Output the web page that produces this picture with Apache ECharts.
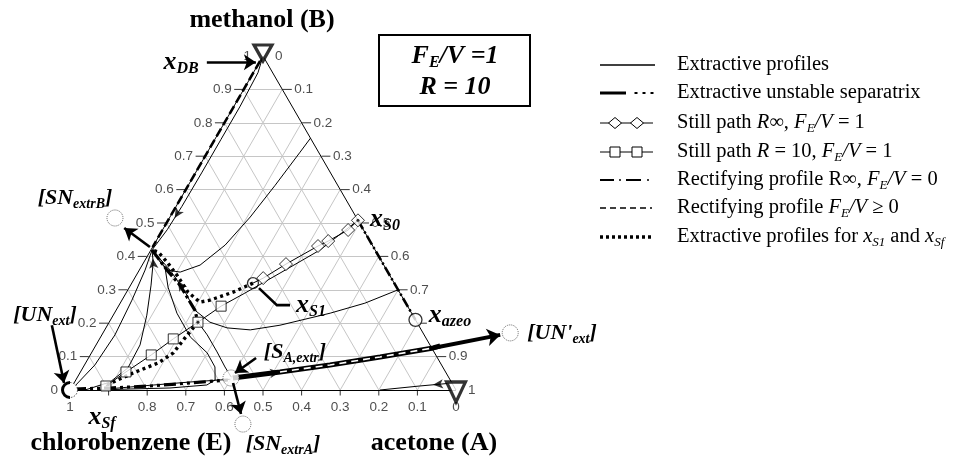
<!DOCTYPE html>
<html>
<head>
<meta charset="utf-8">
<script src="https://cdn.jsdelivr.net/npm/echarts@6/dist/echarts.min.js"></script>
<style>
  html, body { margin: 0; padding: 0; background: #fff; }
  #chart { width: 957px; height: 464px; }
</style>
</head>
<body>
<div id="chart"></div>
<script>
// Ternary diagram acetone (A) / methanol (B) / chlorobenzene (E).
// Every composition is written as [x_acetone, x_methanol]; chlorobenzene is the balance.

const gridSteps = [0.1, 0.2, 0.3, 0.4, 0.5, 0.6, 0.7, 0.8, 0.9];
const methanolTickLabels = ['0', '0.1', '0.2', '0.3', '0.4', '0.5', '0.6', '0.7', '0.8', '0.9', '1'];
const acetoneTickLabels = ['0', '0.1', '0.2', '0.3', '0.4', '0.5', '0.6', '0.7', '0.9', '1'];
const chlorobenzeneTickLabels = ['1', '0.8', '0.7', '0.6', '0.5', '0.4', '0.3', '0.2', '0.1', '0'];

// Special points
const xDB = [0.0, 1.0];
const xS0 = [0.492, 0.508];
const xS1 = [0.314, 0.320];
const xSf = [0.087, 0.012];
const xAzeo = [0.79, 0.21];
const saddle = [0.230, 0.203];
const unExt = [0.0, 0.0];
const snExtrB = [-0.141, 0.515];
const sAExtr = [0.399, 0.036];
const snExtrA = [0.499, -0.102];
const unExtPrime = [1.055, 0.171];

// Extractive profiles (thin solid)
const profileNearB = [[0, 1], [0.012, 0.95], [0.016, 0.85], [0.016, 0.75], [0.016, 0.65], [0.015, 0.55], [0.012, 0.48], [0.003, 0.42]];
const profileUpper = [[0.246, 0.754], [0.240, 0.712], [0.225, 0.613], [0.208, 0.518], [0.185, 0.434], [0.150, 0.374], [0.109, 0.353], [0.072, 0.359], [0.042, 0.383], [0.003, 0.419]];
const profileMiddle = [[0.70, 0.30], [0.634, 0.260], [0.559, 0.230], [0.447, 0.194], [0.377, 0.180], [0.314, 0.186], [0.261, 0.203], [0.204, 0.239], [0.152, 0.293], [0.080, 0.359], [0.003, 0.419]];
const profileNearE = [[0.004, 0.003], [0.027, 0.075], [0.034, 0.165], [0.026, 0.269], [0.015, 0.359], [0.003, 0.419]];
const profileFromBase = [[0.039, 0.0], [0.092, 0.024], [0.117, 0.066], [0.114, 0.135], [0.087, 0.224], [0.053, 0.314], [0.024, 0.383], [0.003, 0.419]];
const profileLoop = [[0.003, 0.419], [0.062, 0.368], [0.100, 0.308], [0.162, 0.230], [0.232, 0.159], [0.300, 0.111], [0.341, 0.069], [0.361, 0.030], [0.347, 0.015], [0.256, 0.006], [0.154, 0.003], [0.078, 0.0]];
const profileSaddleToS = [[0.230, 0.203], [0.273, 0.165], [0.324, 0.114], [0.367, 0.069], [0.398, 0.039]];
const profileBase = [[0.095, 0.003], [0.200, 0.014], [0.300, 0.024], [0.398, 0.032]];
const profileFromA = [[0.982, 0.021], [0.900, 0.012], [0.803, 0.0]];

// Extractive unstable separatrix
const separatrixToUNext = [[0.404, 0.036], [0.517, 0.054], [0.636, 0.075], [0.754, 0.099], [0.878, 0.126], [0.893, 0.132]];
const separatrixBase = [[0.009, 0.003], [0.101, 0.006], [0.201, 0.012], [0.300, 0.021], [0.394, 0.030]];
const separatrixSaddle = [[0.003, 0.419], [0.072, 0.359], [0.128, 0.314], [0.204, 0.239], [0.230, 0.203]];

// Rectifying profiles
const rectifyingInf = [[0.492, 0.508], [0.79, 0.21]];
const rectifyingFE = [[0.0, 0.985], [0.0, 0.428]];
const rectifyingLower = [[0.517, 0.054], [0.636, 0.075], [0.754, 0.099], [0.878, 0.126]];

// Still paths
const stillPathInf = [[0.314, 0.320], [0.333, 0.335], [0.371, 0.377], [0.427, 0.431], [0.446, 0.446], [0.481, 0.479], [0.492, 0.508]];
const stillPath10 = [[0.087, 0.012], [0.118, 0.054], [0.158, 0.105], [0.191, 0.153], [0.230, 0.203], [0.266, 0.251], [0.308, 0.290], [0.369, 0.350], [0.438, 0.419], [0.492, 0.508]];
const stillPath10Marked = 6;

// Extractive profiles for xS1 and xSf
const dottedFromS1 = [[0.314, 0.320], [0.276, 0.293], [0.228, 0.269], [0.205, 0.263], [0.159, 0.293], [0.105, 0.344], [0.060, 0.383], [0.022, 0.413], [0.003, 0.419]];
const dottedFromSf = [[0.088, 0.015], [0.138, 0.051], [0.188, 0.081], [0.212, 0.111], [0.220, 0.156], [0.226, 0.186], [0.230, 0.203]];

// Annotation arrows
const arrowXDB = [[-0.136, 0.981], [-0.009, 0.981]];
const arrowSNextrB = [[-0.007, 0.428], [-0.102, 0.485]];
const arrowUNext = [[-0.144, 0.194], [-0.026, 0.021]];
const arrowSAextr = [[0.434, 0.096], [0.402, 0.051]];
const arrowSNextrA = [[0.412, 0.021], [0.479, -0.072]];
const arrowUNextPrime = [[0.878, 0.126], [1.032, 0.165]];
const arrowXS1 = [[0.443, 0.254], [0.409, 0.254], [0.337, 0.305]];

const SQ = Math.sqrt(3) / 2;
const xy = p => [p[0] + p[1] / 2, p[1] * SQ];
const SERIF = "'Liberation Serif', 'Times New Roman', serif";
const SANS = "'Liberation Sans', Arial, sans-serif";

function curve(points, lineStyle, z) {
  return { type: 'line', data: points.map(xy), symbol: 'none', silent: true, clip: false,
           lineStyle: Object.assign({ color: '#000', width: 1 }, lineStyle), z: z || 3 };
}
function markers(points, symbol, size, itemStyle, z) {
  return { type: 'scatter', data: points.map(xy), symbol, symbolSize: size, silent: true, clip: false,
           itemStyle: Object.assign({ color: '#fff', borderColor: '#000', borderWidth: 1 }, itemStyle), z: z || 5 };
}
function segments(list, lineStyle, extra, z) {
  return Object.assign({ type: 'lines', coordinateSystem: 'cartesian2d', silent: true, clip: false,
           data: list.map(c => ({ coords: c.map(xy) })),
           lineStyle: Object.assign({ color: '#000', width: 1, opacity: 1 }, lineStyle), z: z || 2 }, extra || {});
}
function arrowOn(points, i, t) {
  const a = xy(points[i]), b = xy(points[i + 1]);
  const ang = Math.atan2(b[1] - a[1], b[0] - a[0]) * 180 / Math.PI;
  return { value: [a[0] + (b[0] - a[0]) * t, a[1] + (b[1] - a[1]) * t], symbolRotate: ang - 90 };
}

// Grid lines: constant methanol, acetone and chlorobenzene
const gridSegs = [];
gridSteps.forEach(v => {
  gridSegs.push([[0, v], [1 - v, v]]);
  gridSegs.push([[v, 0], [v, 1 - v]]);
  gridSegs.push([[1 - v, 0], [0, 1 - v]]);
});
const edges = [[[0, 0], [1, 0]], [[1, 0], [0, 1]], [[0, 1], [0, 0]]];

const tickLabelStyle = { fontFamily: SANS, fontSize: 13.5, color: '#222' };
function tickLabels(labels, toPoint, position, distance) {
  return { type: 'scatter', symbolSize: 0.01, silent: true, clip: false, z: 6,
    data: labels.map(l => ({ value: xy(toPoint(parseFloat(l))), label: { formatter: l } })),
    label: Object.assign({ show: true, position, distance }, tickLabelStyle) };
}

const annRich = {
  m: { fontFamily: SERIF, fontSize: 26, fontWeight: 'bold', fontStyle: 'italic', lineHeight: 30, fill: '#000' },
  s: { fontFamily: SERIF, fontSize: 16, fontWeight: 'bold', fontStyle: 'italic', lineHeight: 14, verticalAlign: 'bottom', fill: '#000' },
  M: { fontFamily: SERIF, fontSize: 22, fontWeight: 'bold', fontStyle: 'italic', lineHeight: 26, fill: '#000' },
  S: { fontFamily: SERIF, fontSize: 14, fontWeight: 'bold', fontStyle: 'italic', lineHeight: 12, verticalAlign: 'bottom', fill: '#000' }
};
function ann(x, y, text) {
  return { type: 'text', x, y, z: 20, style: { text, rich: annRich, align: 'center', verticalAlign: 'middle' } };
}
function bold(x, y, text) {
  return { type: 'text', x, y, z: 20, style: { text, fontFamily: SERIF, fontSize: 26, fontWeight: 'bold', fill: '#000', align: 'center', verticalAlign: 'middle' } };
}

const legRich = {
  n: { fontFamily: SERIF, fontSize: 20.5, lineHeight: 24, fill: '#000' },
  i: { fontFamily: SERIF, fontSize: 20.5, fontStyle: 'italic', lineHeight: 24, fill: '#000' },
  b: { fontFamily: SERIF, fontSize: 13, fontStyle: 'italic', lineHeight: 12, verticalAlign: 'bottom', fill: '#000' }
};
const legendEntries = [
  '{n|Extractive profiles}',
  '{n|Extractive unstable separatrix}',
  '{n|Still path }{i|R}{n|∞, }{i|F}{b|E}{i|/V}{n| = 1}',
  '{n|Still path }{i|R}{n| = 10, }{i|F}{b|E}{i|/V}{n| = 1}',
  '{n|Rectifying profile R∞, }{i|F}{b|E}{i|/V}{n| = 0}',
  '{n|Rectifying profile }{i|F}{b|E}{i|/V}{n| ≥ 0}',
  '{n|Extractive profiles for }{i|x}{b|S1}{n| and }{i|x}{b|Sf}'
];
const legendY = [65, 93, 123, 152, 180, 208, 237];
const L0 = 600, L1 = 655;
function hline(x1, x2, y, style) {
  return { type: 'line', shape: { x1, y1: y, x2, y2: y }, style: Object.assign({ stroke: '#000', lineWidth: 1 }, style), z: 20 };
}
const legendGraphics = [];
legendEntries.forEach((t, k) => {
  legendGraphics.push({ type: 'text', x: 677, y: legendY[k], z: 20,
    style: { text: t, rich: legRich, verticalAlign: 'middle', align: 'left' } });
});
legendGraphics.push(hline(L0, L1, legendY[0], { lineWidth: 1.3 }));
legendGraphics.push(hline(L0, 626, legendY[1], { lineWidth: 3 }));
[636, 644, 652].forEach(x => legendGraphics.push({ type: 'rect', shape: { x: x - 1.5, y: legendY[1] - 1, width: 3, height: 2 }, style: { fill: '#000' }, z: 20 }));
legendGraphics.push(hline(L0, 653, legendY[2], { lineWidth: 1 }));
[615, 637].forEach(x => legendGraphics.push({ type: 'polygon', shape: { points: [[x - 6.5, legendY[2]], [x, legendY[2] - 5.5], [x + 6.5, legendY[2]], [x, legendY[2] + 5.5]] }, style: { fill: '#fff', stroke: '#000', lineWidth: 1 }, z: 21 }));
legendGraphics.push(hline(L0, 653, legendY[3], { lineWidth: 1 }));
[615, 637].forEach(x => legendGraphics.push({ type: 'rect', shape: { x: x - 5, y: legendY[3] - 5, width: 10, height: 10 }, style: { fill: '#fff', stroke: '#000', lineWidth: 1 }, z: 21 }));
legendGraphics.push(hline(L0, 614, legendY[4], { lineWidth: 2 }));
legendGraphics.push(hline(626, 641, legendY[4], { lineWidth: 2 }));
[620, 648].forEach(x => legendGraphics.push({ type: 'rect', shape: { x: x - 1, y: legendY[4] - 0.8, width: 2, height: 1.6 }, style: { fill: '#000' }, z: 20 }));
legendGraphics.push(hline(L0, 652, legendY[5], { lineWidth: 1.4, lineDash: [6, 4] }));
legendGraphics.push(hline(L0, 653, legendY[6], { lineWidth: 3.5, lineDash: [3, 3] }));

// Operating parameters box
legendGraphics.push({ type: 'rect', shape: { x: 379, y: 35, width: 151, height: 71 }, style: { fill: '#fff', stroke: '#000', lineWidth: 2 }, z: 19 });
const boxRich = {
  m: { fontFamily: SERIF, fontSize: 26, fontWeight: 'bold', fontStyle: 'italic', lineHeight: 30, fill: '#000' },
  s: { fontFamily: SERIF, fontSize: 16, fontWeight: 'bold', fontStyle: 'italic', lineHeight: 14, verticalAlign: 'bottom', fill: '#000' }
};
legendGraphics.push({ type: 'text', x: 455, y: 56, z: 20, style: { text: '{m|F}{s|E}{m|/V =1}', rich: boxRich, align: 'center', verticalAlign: 'middle' } });
legendGraphics.push({ type: 'text', x: 455, y: 87, z: 20, style: { text: '{m|R = 10}', rich: boxRich, align: 'center', verticalAlign: 'middle' } });

// Component names and point labels
const labelGraphics = [
  bold(262, 20, 'methanol (B)'),
  bold(131, 443, 'chlorobenzene (E)'),
  bold(434, 443, 'acetone (A)'),
  ann(283, 444, '{M|[SN}{S|extrA}{M|]}'),
  ann(181, 62, '{m|x}{s|DB}'),
  ann(385, 219, '{m|x}{s|S0}'),
  ann(311, 305, '{m|x}{s|S1}'),
  ann(450, 315, '{m|x}{s|azeo}'),
  ann(102, 417, '{m|x}{s|Sf}'),
  ann(75, 198, '{M|[SN}{S|extrB}{M|]}'),
  ann(45, 315, '{M|[UN}{S|ext}{M|]}'),
  ann(295, 352, '{M|[S}{S|A,extr}{M|]}'),
  ann(562, 333, "{M|[UN'}{S|ext}{M|]}")
];

const series = [
  segments(gridSegs, { color: '#c6c6c6', width: 1 }, null, 1),
  segments(edges, { color: '#000', width: 1 }, null, 2),
  // tick marks
  { type: 'scatter', silent: true, clip: false, z: 2, symbol: 'rect', symbolSize: [9, 1], symbolOffset: [-5, 0],
    itemStyle: { color: '#000' }, data: gridSteps.map(v => xy([0, v])) },
  { type: 'scatter', silent: true, clip: false, z: 2, symbol: 'rect', symbolSize: [9, 1], symbolOffset: [5, 0],
    itemStyle: { color: '#000' }, data: gridSteps.map(v => xy([v, 1 - v])) },
  { type: 'scatter', silent: true, clip: false, z: 2, symbol: 'rect', symbolSize: [1, 5], symbolOffset: [0, 3],
    itemStyle: { color: '#000' }, data: gridSteps.map(v => xy([1 - v, 0])) },
  tickLabels(methanolTickLabels, v => [0, v], 'left', 12),
  tickLabels(acetoneTickLabels, v => [v, 1 - v], 'right', 12),
  tickLabels(chlorobenzeneTickLabels, v => [1 - v, 0], 'bottom', 10),

  // extractive profiles
  curve(profileNearB, { width: 1 }),
  curve(profileUpper, { width: 1 }),
  curve(profileMiddle, { width: 1 }),
  curve(profileNearE, { width: 1 }),
  curve(profileFromBase, { width: 1 }),
  curve(profileLoop, { width: 1 }),
  curve(profileSaddleToS, { width: 1 }),
  curve(profileBase, { width: 1 }),
  curve(profileFromA, { width: 1 }),

  // rectifying profiles
  curve(rectifyingFE, { width: 2.6, type: [9, 4] }, 4),
  curve(rectifyingInf, { width: 2.6, type: [10, 3, 2, 3] }, 4),

  // extractive unstable separatrix
  curve(separatrixToUNext, { width: 5 }, 4),
  curve(rectifyingLower, { width: 1.6, color: '#fff', type: [7, 5] }, 4),
  curve(separatrixBase, { width: 3.2, type: [12, 4, 3, 4, 3, 4] }, 4),
  curve(separatrixSaddle, { width: 3.2, type: [12, 3, 3, 3] }, 4),

  // still paths
  curve(stillPath10, { width: 1 }),
  curve(stillPathInf, { width: 1 }),

  // dotted extractive profiles for xS1 and xSf
  curve(dottedFromS1, { width: 3.4, type: [3, 3.5] }, 4),
  curve(dottedFromSf, { width: 3.4, type: [3, 3.5] }, 4),

  // still path markers
  markers(stillPath10.slice(0, stillPath10Marked), 'rect', 10, {}),
  markers(stillPathInf.slice(1), 'diamond', [13, 13], {}),
  markers([saddle, xS0], 'circle', 3, { color: '#000', borderWidth: 0 }, 6),

  // small arrowheads along profiles
  { type: 'scatter', silent: true, clip: false, z: 6, symbol: 'arrow', symbolSize: [7, 10], itemStyle: { color: '#000' },
    data: [arrowOn(profileNearB, 5, 0.5), arrowOn(profileFromBase, 6, 0.3), arrowOn(profileFromA, 0, 0.6),
           arrowOn(separatrixToUNext, 1, 0.0), arrowOn(profileMiddle, 8, 0.5)] },

  // singular points
  markers([xS1], 'circle', 11, { color: 'rgba(255,255,255,0)', borderWidth: 1.3 }, 7),
  markers([xAzeo], 'circle', 13, { borderWidth: 1.3 }, 7),
  markers([snExtrB, sAExtr, snExtrA, unExtPrime], 'circle', 16,
          { color: '#fff', borderColor: '#444', borderWidth: 1, borderType: 'dotted' }, 7),
  { type: 'scatter', silent: true, clip: false, z: 8, symbol: 'triangle', symbolRotate: 180,
    data: [{ value: xy(xDB), symbolSize: [18, 16], symbolOffset: [0, -3] },
           { value: xy([1, 0]), symbolSize: [19, 20], symbolOffset: [0, 2] }],
    itemStyle: { color: '#fff', borderColor: '#000', borderWidth: 3.2 } },
  { type: 'custom', silent: true, clip: false, z: 8, data: [xy(unExt)],
    renderItem: (params, api) => {
      const c = api.coord([api.value(0), api.value(1)]);
      return { type: 'group', children: [
        { type: 'circle', shape: { cx: c[0], cy: c[1], r: 7.5 }, style: { fill: '#fff', stroke: null } },
        { type: 'arc', shape: { cx: c[0], cy: c[1], r: 7.5, startAngle: Math.PI * 0.5, endAngle: Math.PI * 1.5 },
          style: { stroke: '#000', lineWidth: 3, fill: null } },
        { type: 'arc', shape: { cx: c[0], cy: c[1], r: 7.5, startAngle: -Math.PI * 0.5, endAngle: Math.PI * 0.5 },
          style: { stroke: '#444', lineWidth: 1, lineDash: [1.5, 1.5], fill: null } }
      ] };
    } },

  // annotation arrows
  segments([arrowXDB, arrowSNextrB, arrowUNext, arrowSAextr, arrowSNextrA], { width: 2.6 },
           { symbol: ['none', 'arrow'], symbolSize: 12 }, 9),
  segments([arrowUNextPrime], { width: 4 }, { symbol: ['none', 'arrow'], symbolSize: 13 }, 9),
  segments([arrowXS1], { width: 2.6 }, { polyline: true, symbol: ['none', 'arrow'], symbolSize: 12 }, 9)
];

const chart = echarts.init(document.getElementById('chart'), null, { renderer: 'canvas' });
chart.setOption({
  animation: false,
  backgroundColor: '#fff',
  grid: { left: 70, top: 56, width: 386, height: 334 },
  xAxis: { type: 'value', min: 0, max: 1, show: false },
  yAxis: { type: 'value', min: 0, max: SQ, show: false },
  series,
  graphic: legendGraphics.concat(labelGraphics)
});
</script>
</body>
</html>
